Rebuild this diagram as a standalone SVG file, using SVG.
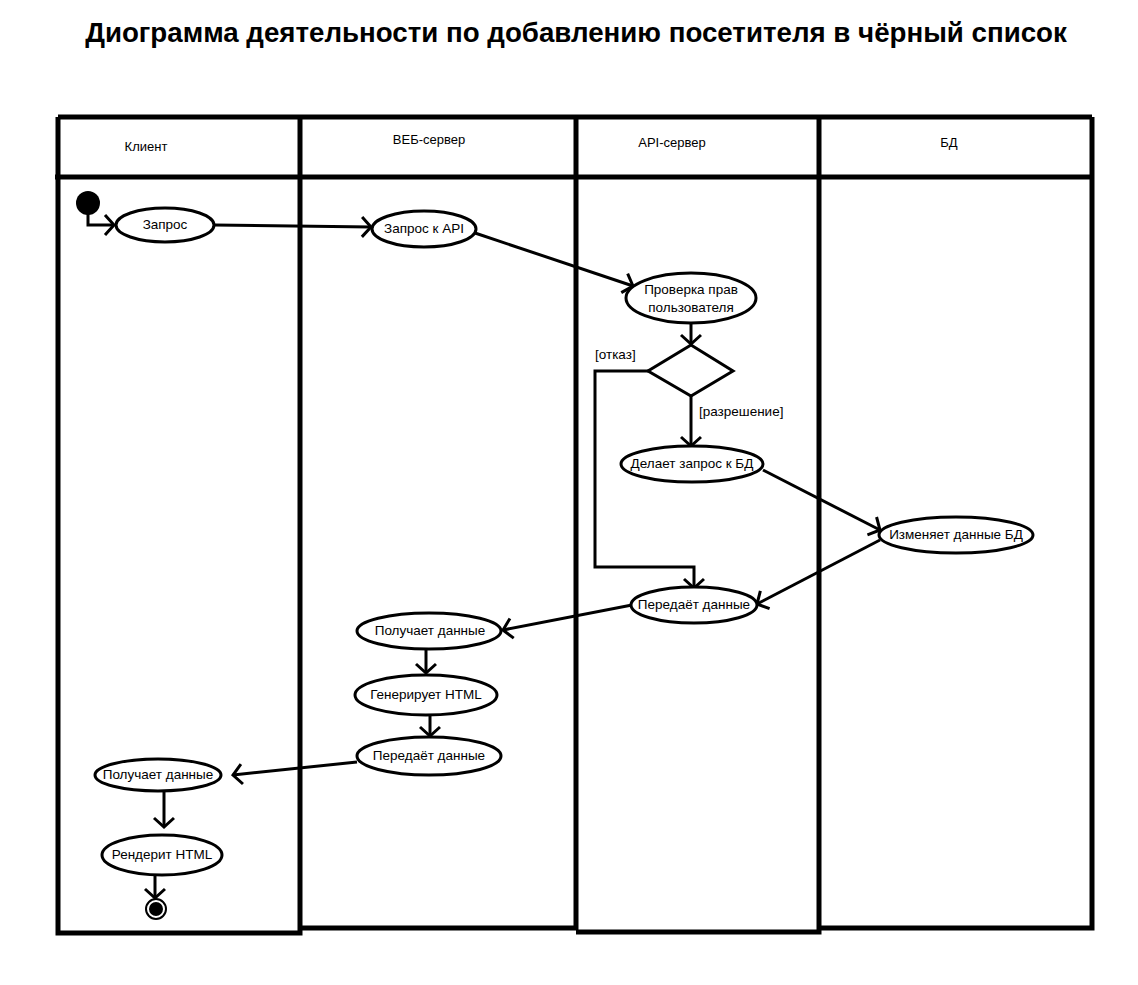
<svg xmlns="http://www.w3.org/2000/svg" width="1138" height="985" viewBox="0 0 1138 985">
<style>
.lane{fill:none;stroke:#000;stroke-width:5}
.hdr{font-family:"Liberation Sans",Arial,sans-serif;font-size:13px;fill:#000;text-anchor:middle}
.act{fill:#fff;stroke:#000;stroke-width:3}
.lbl{font-family:"Liberation Sans",Arial,sans-serif;font-size:13.5px;fill:#000;text-anchor:middle}
.guard{font-family:"Liberation Sans",Arial,sans-serif;font-size:13.5px;fill:#000}
.con{fill:none;stroke:#000;stroke-width:3}
.title{font-family:"Liberation Sans",Arial,sans-serif;font-size:27.7px;font-weight:bold;fill:#000;text-anchor:middle}
</style>
<defs>
<marker id="arr" markerUnits="userSpaceOnUse" markerWidth="24" markerHeight="24" viewBox="-2 -12 14 24" refX="9" refY="0" orient="auto">
<path d="M0,-10 L9,0 L0,10" fill="none" stroke="#000" stroke-width="3"/>
</marker>
</defs>
<rect width="1138" height="985" fill="#fff"/>
<text class="title" x="576" y="42">Диограмма деятельности по добавлению посетителя в чёрный список</text>

<g id="lanes">
<path class="lane" d="M58,117 H1092 M55,177 H1092"/>
<path class="lane" d="M58,117 V933 H300 V117"/>
<path class="lane" d="M300,928 H576 V117"/>
<path class="lane" d="M576,932 H819 V117"/>
<path class="lane" d="M819,928 H1092 V117"/>
<text class="hdr" x="146" y="151">Клиент</text>
<text class="hdr" x="429" y="144">ВЕБ-сервер</text>
<text class="hdr" x="672" y="147">API-сервер</text>
<text class="hdr" x="949" y="147">БД</text>
</g>

<g id="connectors">
<path class="con" d="M88,214 V225 H114" marker-end="url(#arr)"/>
<path class="con" d="M214,225 L371,227" marker-end="url(#arr)"/>
<path class="con" d="M475,233 L633,286" marker-end="url(#arr)"/>
<path class="con" d="M691,323 V344" marker-end="url(#arr)"/>
<path class="con" d="M648,371 H595 V567 H694 V588" marker-end="url(#arr)"/>
<path class="con" d="M691,396 V446" marker-end="url(#arr)"/>
<path class="con" d="M763,470 L880,530" marker-end="url(#arr)"/>
<path class="con" d="M880,540 L757,604" marker-end="url(#arr)"/>
<path class="con" d="M632,605 L503,630" marker-end="url(#arr)"/>
<path class="con" d="M426,650 V673" marker-end="url(#arr)"/>
<path class="con" d="M430,716 V736" marker-end="url(#arr)"/>
<path class="con" d="M357,762 L233,775" marker-end="url(#arr)"/>
<path class="con" d="M164,791 V827" marker-end="url(#arr)"/>
<path class="con" d="M155,875 V898" marker-end="url(#arr)"/>
<text class="guard" x="595" y="359">[отказ]</text>
<text class="guard" x="699" y="416">[разрешение]</text>
</g>

<g id="start"><circle cx="88" cy="203" r="12" fill="#000"/></g>
<g id="n_zapros"><ellipse class="act" cx="165" cy="225" rx="49" ry="17"/><text class="lbl" x="165" y="229">Запрос</text></g>
<g id="n_zapros_api"><ellipse class="act" cx="424" cy="229" rx="52" ry="18"/><text class="lbl" x="424" y="233">Запрос к API</text></g>
<g id="n_proverka"><ellipse class="act" cx="691" cy="298" rx="65" ry="25"/><text class="lbl" x="691" y="294">Проверка прав</text><text class="lbl" x="691" y="312">пользователя</text></g>
<g id="n_decision"><polygon class="act" points="691,345 733,371 691,396 648,371"/></g>
<g id="n_delaet"><ellipse class="act" cx="692" cy="464" rx="71" ry="18"/><text class="lbl" x="692" y="468">Делает запрос к БД</text></g>
<g id="n_izmenyaet"><ellipse class="act" cx="956" cy="535" rx="77" ry="18"/><text class="lbl" x="956" y="539">Изменяет данные БД</text></g>
<g id="n_peredaet_api"><ellipse class="act" cx="694" cy="605" rx="63" ry="18"/><text class="lbl" x="694" y="609">Передаёт данные</text></g>
<g id="n_poluchaet_web"><ellipse class="act" cx="429" cy="631" rx="72" ry="18"/><text class="lbl" x="430" y="635">Получает данные</text></g>
<g id="n_generiruet"><ellipse class="act" cx="426" cy="695" rx="71" ry="20"/><text class="lbl" x="426" y="699">Генерирует HTML</text></g>
<g id="n_peredaet_web"><ellipse class="act" cx="429" cy="756" rx="72" ry="19"/><text class="lbl" x="429" y="760">Передаёт данные</text></g>
<g id="n_poluchaet_client"><ellipse class="act" cx="158" cy="775" rx="63" ry="16"/><text class="lbl" x="158" y="779">Получает данные</text></g>
<g id="n_render"><ellipse class="act" cx="162" cy="855" rx="60" ry="20"/><text class="lbl" x="162" y="859">Рендерит HTML</text></g>
<g id="end"><circle cx="156" cy="909" r="10" fill="#fff" stroke="#000" stroke-width="2"/><circle cx="156" cy="909" r="7" fill="#000"/></g>
</svg>
